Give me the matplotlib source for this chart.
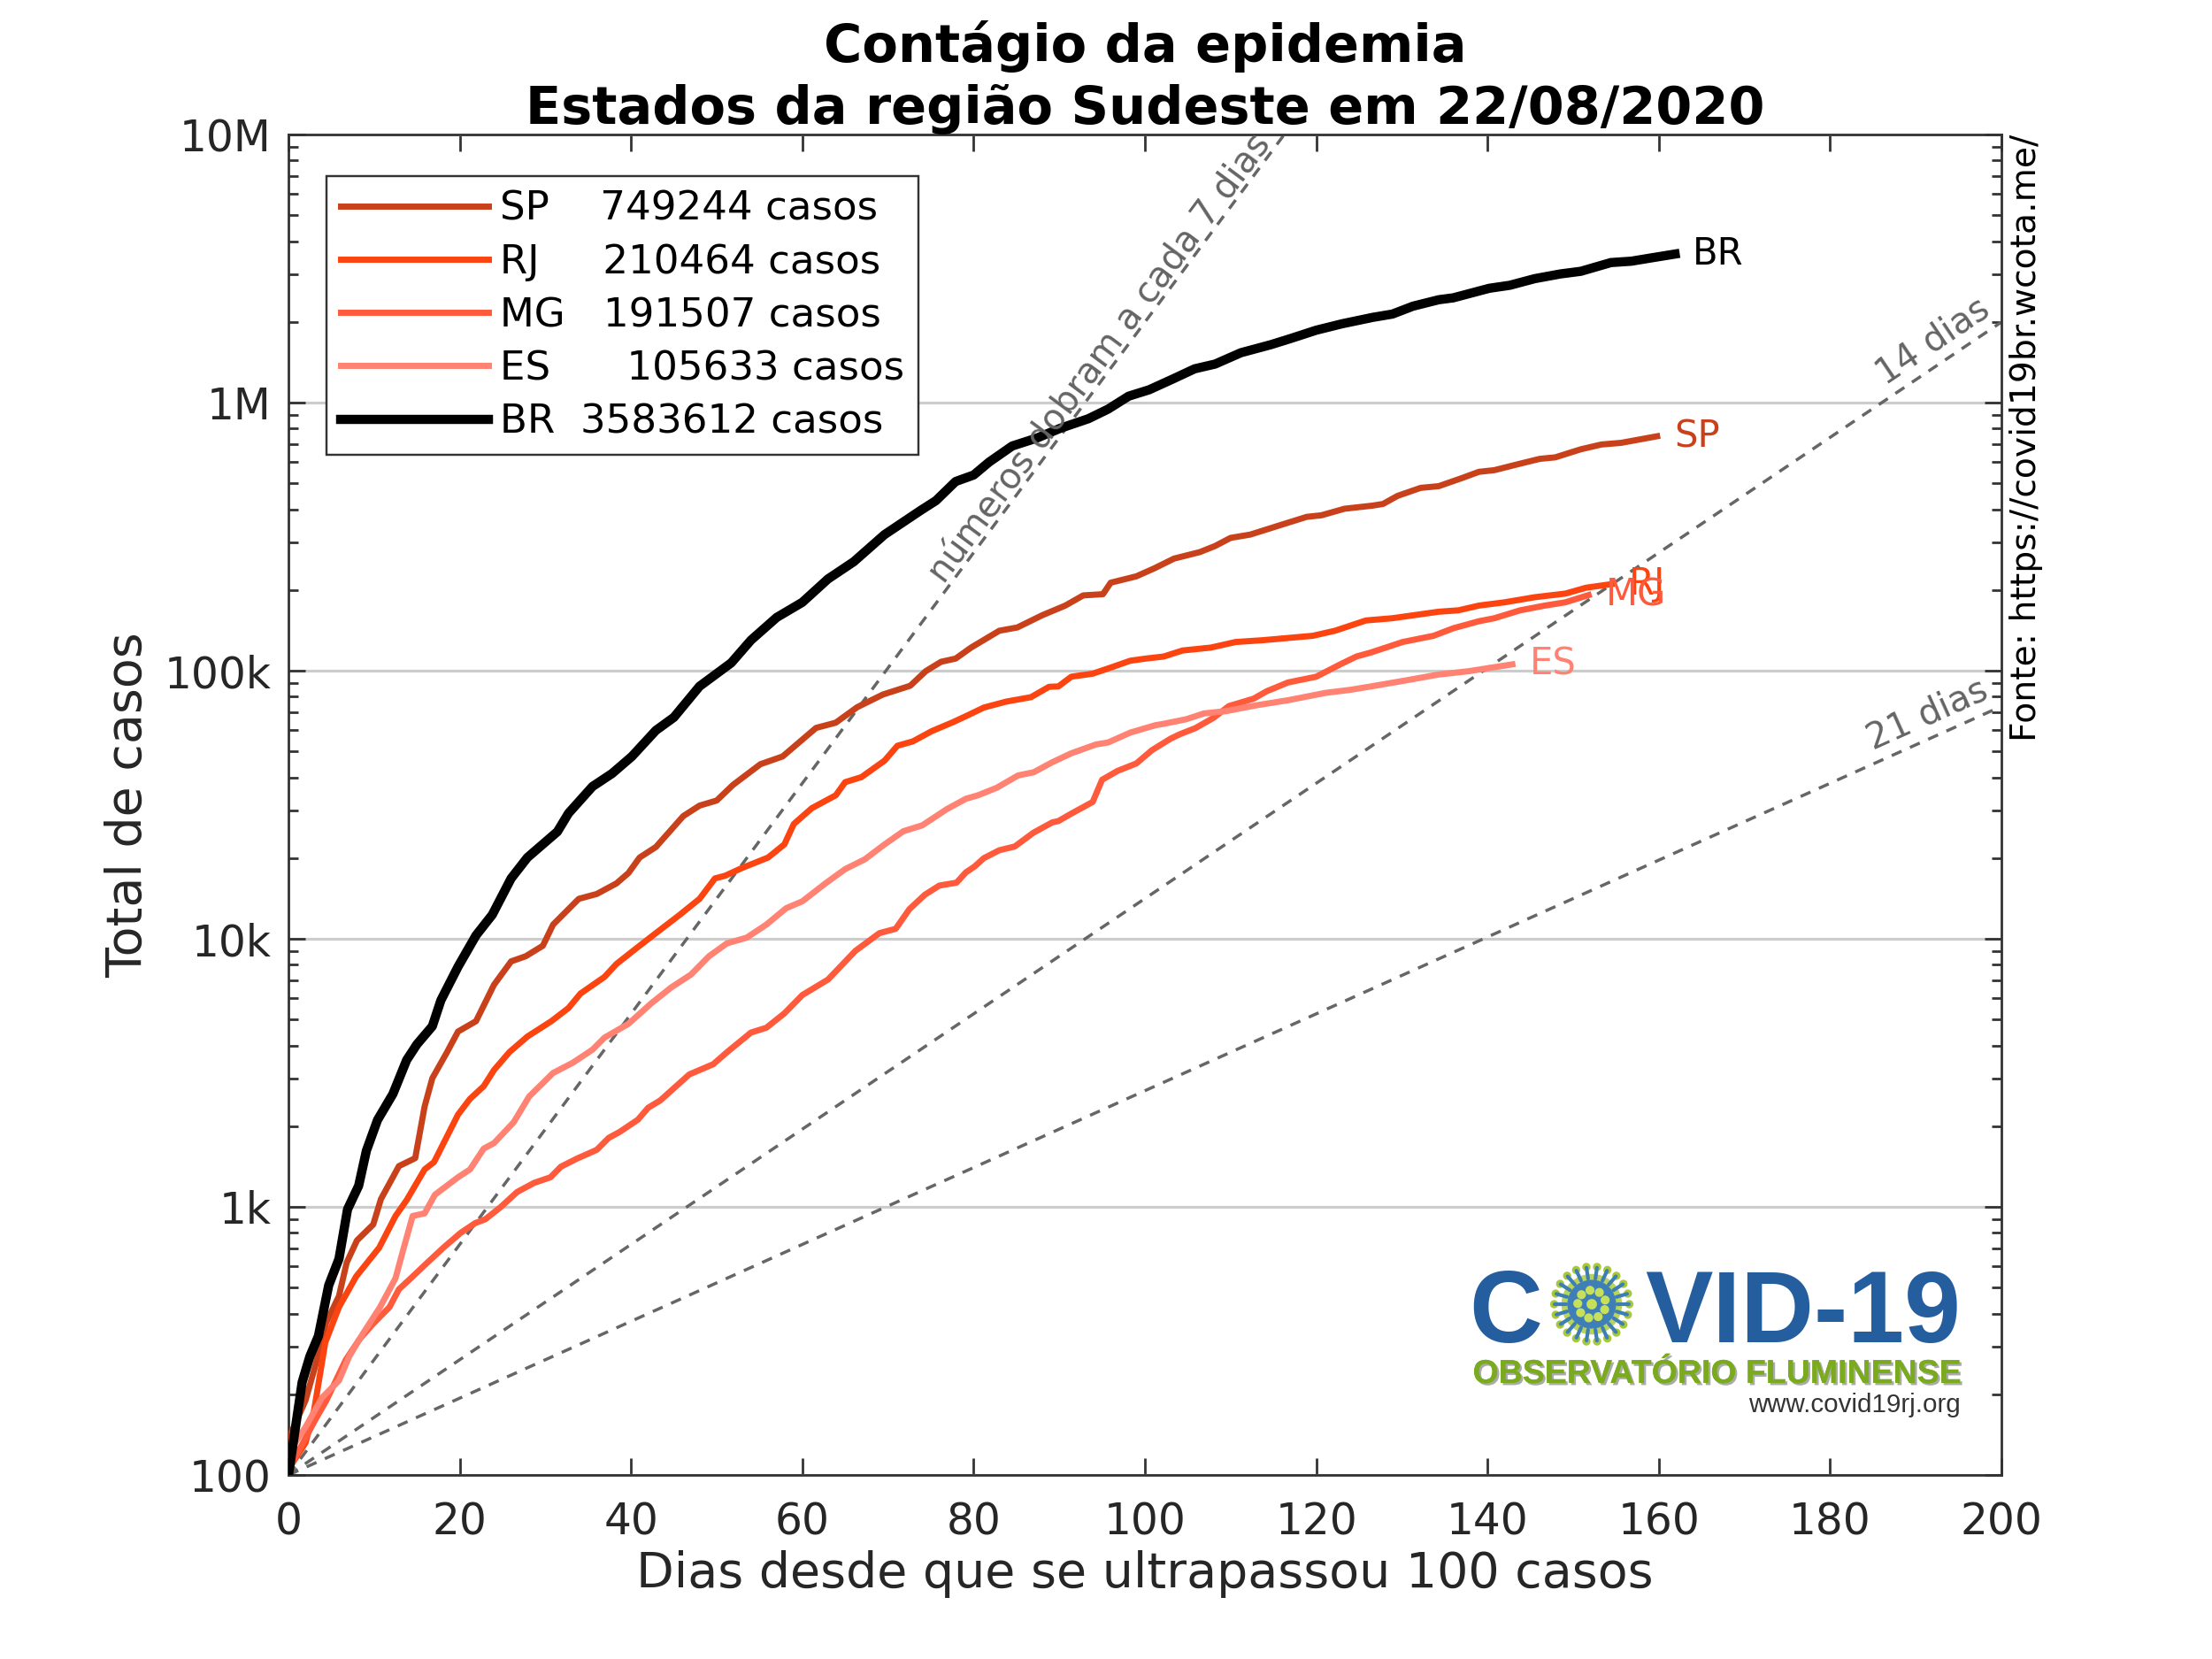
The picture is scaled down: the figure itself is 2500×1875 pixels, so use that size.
import numpy as np
import matplotlib
matplotlib.use("Agg")
import matplotlib.pyplot as plt
import matplotlib.patheffects as pe
from matplotlib.ticker import FixedLocator, FixedFormatter, LogLocator, NullFormatter
from matplotlib.patches import Circle

# ---------------- data ----------------
STATES = ["SP", "RJ", "MG", "ES", "BR"]
LEGEND_LABELS = ["SP    749244 casos", "RJ     210464 casos", "MG   191507 casos",
                 "ES      105633 casos", "BR  3583612 casos"]
COLORS = ["#C9411B", "#FC4410", "#FF5A3C", "#FF8272", "#000000"]

SP_DAYS = [0, 2, 3.2, 4.4, 5.9, 6.8, 8, 9.9, 10.8, 12.9, 14.8, 15.9, 16.8, 18.5, 19.8, 21.9, 24, 26,
           27.7, 29.7, 30.9, 33.9, 36, 38.3, 39.7, 41, 42.9, 46.1, 48, 50, 51.9, 55.1, 57.7, 61.6,
           63.9, 66.4, 69.4, 72.6, 74.4, 76.2, 77.9, 79.7, 83, 85.1, 88, 90.7, 92.8, 95.1, 96, 99,
           101.1, 103.4, 106.4, 108.2, 110, 112.3, 115.9, 118.9, 120.6, 123.3, 126.6, 127.8, 129.5,
           132.2, 134.3, 137, 139, 140.8, 143.8, 146.1, 147.9, 150.9, 153.3, 155.6, 159.8]
SP_CASES = [136, 190, 260, 370, 465, 620, 750, 860, 1070, 1420, 1520, 2370, 3020, 3770, 4510, 4930,
            6740, 8240, 8610, 9420, 11300, 14100, 14700, 16100, 17600, 20100, 22000, 28700, 31400,
            32800, 37500, 44800, 47900, 61200, 64000, 73100, 81500, 87900, 99600, 108000, 111000,
            122000, 141000, 145000, 161000, 175000, 191000, 193000, 213000, 225000, 241000, 262000,
            277000, 292000, 313000, 322000, 350000, 375000, 380000, 402000, 413000, 419000, 449000,
            481000, 488000, 523000, 552000, 560000, 592000, 617000, 625000, 670000, 698000, 708000,
            749244]

RJ_DAYS = [0, 2, 3, 4.3, 5.9, 7.9, 10.6, 12.5, 13.8, 15.9, 17, 19.8, 21.2, 22.8, 24, 25.8, 27.9,
           30.7, 32.7, 34.1, 36.9, 38.3, 40.6, 42.9, 45.7, 48, 49.8, 51, 53, 56, 57.9, 59, 61.1,
           63.9, 65, 66.9, 69.6, 71.1, 72.9, 75.1, 77.6, 79.4, 81.2, 83.8, 86.7, 88.8, 89.9, 91.4,
           93.9, 96.1, 98.3, 100.1, 102.2, 104.4, 107.7, 110.6, 113.8, 119.6, 122.2, 125.8, 128.9,
           134.3, 136.6, 139, 142, 145.5, 149.1, 151.5, 154.5]
RJ_CASES = [105, 132, 175, 312, 423, 550, 705, 925, 1060, 1380, 1470, 2210, 2530, 2820, 3240, 3780,
            4320, 4930, 5520, 6250, 7210, 8060, 9210, 10500, 12300, 14100, 16800, 17200, 18400,
            20100, 22500, 26800, 30700, 34300, 38400, 40100, 46200, 52500, 54500, 59500, 64300,
            68400, 72900, 76700, 79700, 87100, 87400, 95000, 97500, 103000, 109000, 111000, 113000,
            119000, 122000, 128000, 130000, 135000, 141000, 154000, 157000, 166000, 168000, 175000,
            180000, 188000, 194000, 204000, 210464]

MG_DAYS = [0, 1.6, 3, 4.4, 6.7, 8.3, 9.8, 11.8, 12.9, 14.5, 16.2, 18.1, 20.1, 21.8, 23, 24.8, 26.7,
           28.7, 30.6, 31.8, 33.7, 36, 37.4, 38.7, 40.8, 42, 43.4, 46.8, 49.6, 51.2, 54, 55.8, 57.9,
           60, 63, 66.2, 69, 70.9, 72.5, 74.3, 76, 78, 79.1, 80.1, 81.2, 83, 84.8, 87, 89.2, 89.9,
           91.4, 93.9, 95, 96.8, 99, 100.8, 103, 104.1, 105.9, 108, 109.8, 112.7, 114.2, 116.7, 120,
           122.9, 124.7, 126.4, 130.1, 133.7, 136, 139, 140.8, 143.8, 146.7, 149.1, 151.8]
MG_CASES = [105, 130, 158, 189, 269, 321, 364, 423, 493, 550, 619, 705, 800, 870, 900, 1000, 1137,
            1230, 1290, 1412, 1515, 1633, 1810, 1907, 2115, 2344, 2494, 3120, 3407, 3776, 4470,
            4660, 5270, 6170, 7050, 9020, 10500, 10900, 12900, 14600, 15800, 16200, 17700, 18600,
            20000, 21400, 22100, 24900, 27200, 27500, 29300, 32400, 39200, 42300, 45100, 50500,
            55800, 58000, 61100, 66700, 73800, 78700, 83800, 90400, 95000, 106000, 113000, 117000,
            128000, 135000, 144000, 153000, 157000, 168000, 175000, 180000, 191507]

ES_DAYS = [0, 2, 3.9, 5.9, 7.1, 8.7, 10.7, 12.5, 13.4, 14.5, 15.9, 17.1, 18.5, 19.8, 21.2, 22.8, 24,
           26.3, 28.1, 30.9, 33.2, 35.5, 36.9, 39.7, 42.4, 44.7, 47, 49.1, 51.2, 53.5, 55.8, 58.1,
           60, 62.7, 65, 67.3, 69.6, 71.8, 74, 76.9, 79.1, 80.5, 82.7, 85.2, 87, 89.2, 91.4, 94.3,
           95.7, 98.3, 101.2, 102.2, 104.8, 106.9, 109.5, 113.1, 116.7, 121.1, 124, 126.4, 130.1,
           134.3, 137.8, 142.9]
ES_CASES = [121, 151, 194, 225, 277, 337, 423, 542, 692, 925, 946, 1110, 1200, 1290, 1380, 1650,
            1730, 2070, 2580, 3160, 3450, 3860, 4280, 4820, 5760, 6590, 7360, 8610, 9620, 10100,
            11300, 13000, 13800, 16100, 18200, 19800, 22500, 25200, 26500, 30500, 33300, 34300,
            36600, 40700, 41800, 45600, 49200, 53100, 54000, 58800, 62600, 63400, 65900, 69300,
            70700, 74400, 77600, 82700, 84900, 87400, 91600, 96800, 99600, 105633]

BR_DAYS = [0, 1.6, 2.5, 3.5, 4.7, 5.9, 6.9, 8.2, 9.1, 10.4, 12.2, 13.8, 15, 16.8, 17.8, 19.8, 21.9,
           23.8, 26, 27.9, 31.4, 32.7, 35.5, 37.8, 40.1, 42.9, 45, 48, 51.7, 54, 57, 60, 63, 66,
           69.6, 73.8, 75.6, 77.9, 80, 81.8, 84.5, 87.4, 90.1, 93.4, 95.7, 98.1, 100.5, 103.4,
           105.8, 108.2, 111.2, 114.7, 117.1, 120, 123, 126.6, 128.9, 131.3, 134.3, 136, 140.2,
           142.6, 145.5, 148.5, 150.9, 154.4, 156.8, 159.2, 161.9]
BR_CASES = [100, 222, 277, 330, 510, 640, 980, 1200, 1620, 2110, 2640, 3530, 4040, 4720, 5900, 7870,
            10300, 12300, 16800, 20100, 25100, 29400, 37000, 41400, 47900, 59900, 67000, 87500,
            107000, 130000, 158000, 180000, 220000, 255000, 322000, 396000, 431000, 508000, 537000,
            600000, 689000, 738000, 802000, 871000, 946000, 1057000, 1117000, 1231000, 1337000,
            1393000, 1535000, 1645000, 1738000, 1863000, 1968000, 2080000, 2140000, 2290000,
            2420000, 2460000, 2670000, 2740000, 2900000, 3020000, 3090000, 3330000, 3370000,
            3470000, 3583612]

SERIES_DAYS = [SP_DAYS, RJ_DAYS, MG_DAYS, ES_DAYS, BR_DAYS]
SERIES_CASES = [SP_CASES, RJ_CASES, MG_CASES, ES_CASES, BR_CASES]

DOUBLING_DAYS = [7, 14, 21]
DOUBLING_LABELS = ["números dobram a cada 7 dias", "14 dias", "21 dias"]
DOUBLING_LABEL_POS = [(94.7, 10 ** 6.165), (192.0, 10 ** 6.228), (191.4, 10 ** 4.835)]

X_TICKS = list(range(0, 201, 20))
Y_TICKS = [1e2, 1e3, 1e4, 1e5, 1e6, 1e7]
Y_TICK_LABELS = ["100", "1k", "10k", "100k", "1M", "10M"]

TITLE = "Contágio da epidemia\nEstados da região Sudeste em 22/08/2020"
XLABEL = "Dias desde que se ultrapassou 100 casos"
YLABEL = "Total de casos"
SOURCE = "Fonte: https://covid19br.wcota.me/"

# ---------------- figure ----------------
plt.rcParams["font.family"] = ["DejaVu Sans"]
DPI = 250
fig = plt.figure(figsize=(10, 7.5), dpi=DPI)
ax = fig.add_axes([0.1304, 0.1109, 0.7744, 0.8080])
ax.set_yscale("log")
ax.set_xlim(0, 200)
ax.set_ylim(100, 1e7)

TEXT_GRAY = "#262626"
SPINE = "#333333"

# doubling reference lines
for d in DOUBLING_DAYS:
    xs = np.array([0.0, 200.0])
    ax.plot(xs, 100 * 2 ** (xs / d), color="#666666", lw=1.0, dashes=(3.5, 3.0), zorder=2)

# series
for st, lab, col, xs, ys in zip(STATES, LEGEND_LABELS, COLORS, SERIES_DAYS, SERIES_CASES):
    lw = 3.0 if st == "BR" else 2.0
    ax.plot(xs, ys, color=col, lw=lw, label=lab, zorder=3, solid_joinstyle="round")
    ax.text(xs[-1] + 2.0, ys[-1], st, color=col, fontsize=12, ha="left", va="center", zorder=5)

# axes styling
ax.xaxis.set_major_locator(FixedLocator(X_TICKS))
ax.yaxis.set_major_locator(FixedLocator(Y_TICKS))
ax.yaxis.set_major_formatter(FixedFormatter(Y_TICK_LABELS))
ax.yaxis.set_minor_locator(LogLocator(base=10, subs=np.arange(2, 10), numticks=20))
ax.yaxis.set_minor_formatter(NullFormatter())
ax.tick_params(which="both", direction="in", top=True, right=True, color=SPINE, width=0.8)
ax.tick_params(which="major", length=5.5, labelsize=14, labelcolor=TEXT_GRAY)
ax.tick_params(which="minor", length=3.2)
ax.tick_params(axis="x", pad=8.5)
ax.tick_params(axis="y", pad=5.5)
for s in ax.spines.values():
    s.set_color(SPINE)
    s.set_linewidth(0.8)
ax.yaxis.grid(True, which="major", color="#cccccc", lw=0.9)
ax.xaxis.grid(False)
ax.set_axisbelow(True)

ax.set_xlabel(XLABEL, fontsize=16, color=TEXT_GRAY, labelpad=2)
ax.set_ylabel(YLABEL, fontsize=16, color=TEXT_GRAY, labelpad=4)
ax.set_title(TITLE, fontsize=17, fontweight="bold", color="black", pad=2, linespacing=1.3)

# labels along doubling lines
fig.canvas.draw()
for d, lab, (px, py) in zip(DOUBLING_DAYS, DOUBLING_LABELS, DOUBLING_LABEL_POS):
    p1 = ax.transData.transform((0, 100))
    p2 = ax.transData.transform((100, 100 * 2 ** (100 / d)))
    ang = np.degrees(np.arctan2(p2[1] - p1[1], p2[0] - p1[0]))
    ax.text(px, py, lab, rotation=ang, rotation_mode="anchor", ha="center", va="center",
            fontsize=11.5, color="#646464", zorder=6)

leg = ax.legend(loc="upper left", bbox_to_anchor=(0.0222, 0.969), borderaxespad=0,
                fontsize=13, handlelength=3.7, handletextpad=0.3, labelspacing=0.38,
                borderpad=0.35, fancybox=False, framealpha=1, edgecolor=SPINE)
leg.get_frame().set_linewidth(0.7)
for t in leg.get_texts():
    t.set_color("black")

# source text on the right
fig.text(0.9085, 0.919, SOURCE, rotation=90, ha="left", va="top", fontsize=11.3, color="black")

# ---------------- logo ----------------
BLUE = "#245E9E"
fig.text(1660 / 2500, 1 - 1517 / 1875, "C", fontsize=33, fontweight="bold", color=BLUE,
         family="Liberation Sans", ha="left", va="baseline")
fig.text(2216 / 2500, 1 - 1517 / 1875, "VID-19", fontsize=33, fontweight="bold", color=BLUE,
         family="Liberation Sans", ha="right", va="baseline")
fig.text(2216 / 2500, 1 - 1563 / 1875, "OBSERVATÓRIO FLUMINENSE", fontsize=10.8,
         fontweight="bold", color="#7AAA1E", family="Liberation Sans", ha="right",
         va="baseline",
         path_effects=[pe.withSimplePatchShadow(offset=(0.7, -0.7), shadow_rgbFace="#444444",
                                                alpha=0.45), pe.Normal()])
fig.text(2216 / 2500, 1 - 1596 / 1875, "www.covid19rj.org", fontsize=8.5, color="#333333",
         family="Liberation Sans", ha="right", va="baseline")

lax = fig.add_axes([1749 / 2500, 1 - 1524 / 1875, 100 / 2500, 100 / 1875])
lax.set_xlim(-1.2, 1.2)
lax.set_ylim(-1.2, 1.2)
lax.set_aspect("equal")
lax.axis("off")
ang_s = np.linspace(0, 2 * np.pi, 22, endpoint=False)
for a in ang_s:
    lax.plot([0.7 * np.cos(a), 1.0 * np.cos(a)], [0.7 * np.sin(a), 1.0 * np.sin(a)],
             color="#3d7fb5", lw=1.2, solid_capstyle="round")
    lax.add_patch(Circle((1.02 * np.cos(a), 1.02 * np.sin(a)), 0.07, color="#a8c83a"))
lax.add_patch(Circle((0, 0), 0.78, color="#b8d45a"))
lax.add_patch(Circle((0, 0), 0.62, color="#3f7fb8"))
for a in np.linspace(0, 2 * np.pi, 9, endpoint=False):
    lax.add_patch(Circle((0.38 * np.cos(a + 0.3), 0.38 * np.sin(a + 0.3)), 0.08, color="#c6e05a"))
lax.add_patch(Circle((0, 0), 0.1, color="#c6e05a"))

fig.savefig("out.png", dpi=DPI)
